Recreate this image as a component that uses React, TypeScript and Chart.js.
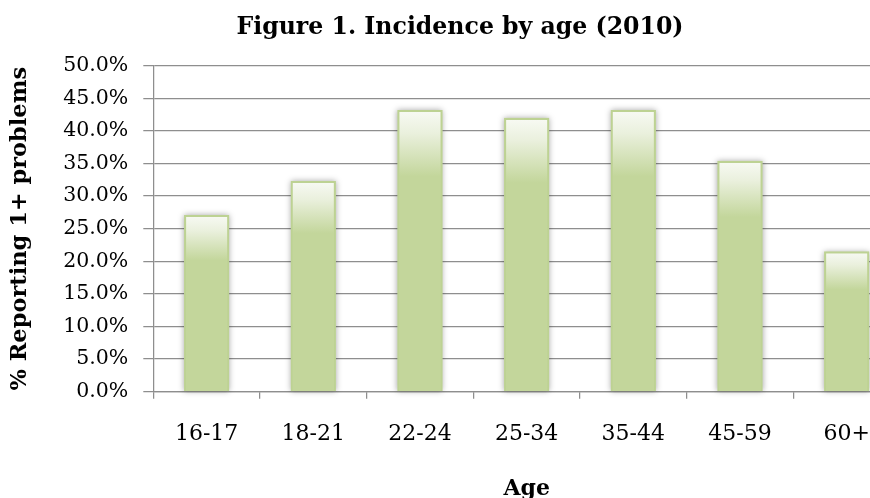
import React, { useEffect, useRef } from "react";
import { Chart, registerables } from "chart.js";

Chart.register(...registerables);

const categories = ["16-17", "18-21", "22-24", "25-34", "35-44", "45-59", "60+"];
const values = [27.1, 32.3, 43.2, 42.0, 43.2, 35.4, 21.5];
const yTicks = [0, 5, 10, 15, 20, 25, 30, 35, 40, 45, 50];

const titleText = "Figure 1. Incidence by age (2010)";
const yTitle = "% Reporting 1+ problems";
const xTitle = "Age";

const FONT = "'DejaVu Serif', 'Liberation Serif', serif";
const GREEN = "#c3d69b";
const GRID = "#8e8e8e";

const shadowPlugin = {
  id: "barShadow",
  beforeDatasetsDraw(chart: any) {
    const ctx = chart.ctx;
    const meta = chart.getDatasetMeta(0);
    ctx.save();
    ctx.shadowColor = "rgba(0,0,0,0.35)";
    ctx.shadowBlur = 6;
    ctx.shadowOffsetX = 0;
    ctx.shadowOffsetY = 0;
    ctx.fillStyle = GREEN;
    meta.data.forEach((el: any) => {
      const w = el.width;
      ctx.fillRect(el.x - w / 2, el.y, w, el.base - el.y);
    });
    ctx.restore();
  },
};

export default function App() {
  const ref = useRef<HTMLCanvasElement | null>(null);
  useEffect(() => {
    if (!ref.current) return;
    const chart = new Chart(ref.current, {
      type: "bar",
      data: {
        labels: categories,
        datasets: [
          {
            data: values,
            yAxisID: "y",
            backgroundColor: (c: any) => {
              const ch = c.chart;
              if (!ch.chartArea || c.dataIndex == null) return GREEN;
              const ys = ch.scales.y;
              const v = values[c.dataIndex];
              const top = ys.getPixelForValue(v);
              const base = ys.getPixelForValue(0);
              const h = base - top;
              const g = ch.ctx.createLinearGradient(0, top, 0, base);
              const f = Math.min(0.9, (0.2 * h + 10) / h);
              g.addColorStop(0, "#f8faf4");
              g.addColorStop(f * 0.35, "#eaf0dd");
              g.addColorStop(f, GREEN);
              g.addColorStop(1, GREEN);
              return g;
            },
            borderColor: "#bdd293",
            borderWidth: 2,
            borderSkipped: "bottom",
            barPercentage: 0.422,
            categoryPercentage: 1,
          },
        ],
      },
      options: {
        animation: false,
        responsive: false,
        devicePixelRatio: 1,
        layout: { padding: { left: 0, right: 0, top: 0, bottom: 0 } },
        plugins: {
          legend: { display: false },
          tooltip: { enabled: false },
          title: {
            display: true,
            text: titleText,
            color: "#000",
            font: { family: FONT, size: 23.6, weight: "bold", lineHeight: 1.2 },
            padding: { top: 13.4, bottom: 24.0 },
          },
        },
        scales: {
          x: {
            offset: true,
            grid: {
              display: true,
              offset: true,
              drawOnChartArea: false,
              drawTicks: true,
              tickLength: 7,
              color: GRID,
              lineWidth: 1.25,
            },
            border: { display: true, color: GRID, width: 1.25 },
            ticks: {
              color: "#000",
              font: { family: FONT, size: 22, lineHeight: 1.2 },
              padding: 22.1,
              maxRotation: 0,
            },
            title: {
              display: true,
              text: xTitle,
              color: "#000",
              font: { family: FONT, size: 22, weight: "bold", lineHeight: 1.2 },
              padding: { top: 0, bottom: -4.6 },
            },
            afterFit: (s: any) => {
              s.height = 498 - 391.7;
            },
          },
          y: {
            min: 0,
            max: 50,
            afterBuildTicks: (s: any) => {
              s.ticks = yTicks.map((v) => ({ value: v }));
            },
            grid: {
              display: true,
              drawTicks: true,
              tickLength: 10,
              color: GRID,
              lineWidth: 1.25,
            },
            border: { display: true, color: GRID, width: 1.25 },
            ticks: {
              color: "#000",
              font: { family: FONT, size: 20.5, lineHeight: 1.2 },
              padding: 15,
              callback: (v: any) => Number(v).toFixed(1) + "%",
            },
            title: {
              display: true,
              text: yTitle,
              color: "#000",
              font: { family: FONT, size: 22.5, weight: "bold", lineHeight: 1.2 },
              padding: { top: 6.5, bottom: 0 },
            },
            afterFit: (s: any) => {
              s.width = 153.3;
            },
          },
          yR: {
            position: "right",
            display: true,
            min: 0,
            max: 50,
            grid: { display: false, drawTicks: false },
            border: { display: false },
            ticks: { display: false },
            afterFit: (s: any) => {
              s.width = 20;
            },
          },
        },
      },
      plugins: [shadowPlugin],
    });
    return () => chart.destroy();
  }, []);

  return (
    <div
      style={{
        position: "absolute",
        left: 0,
        top: 0,
        width: 870,
        height: 498,
        overflow: "hidden",
        background: "#fff",
      }}
    >
      <canvas ref={ref} width={920} height={498} style={{ width: 920, height: 498, display: "block" }} />
    </div>
  );
}
